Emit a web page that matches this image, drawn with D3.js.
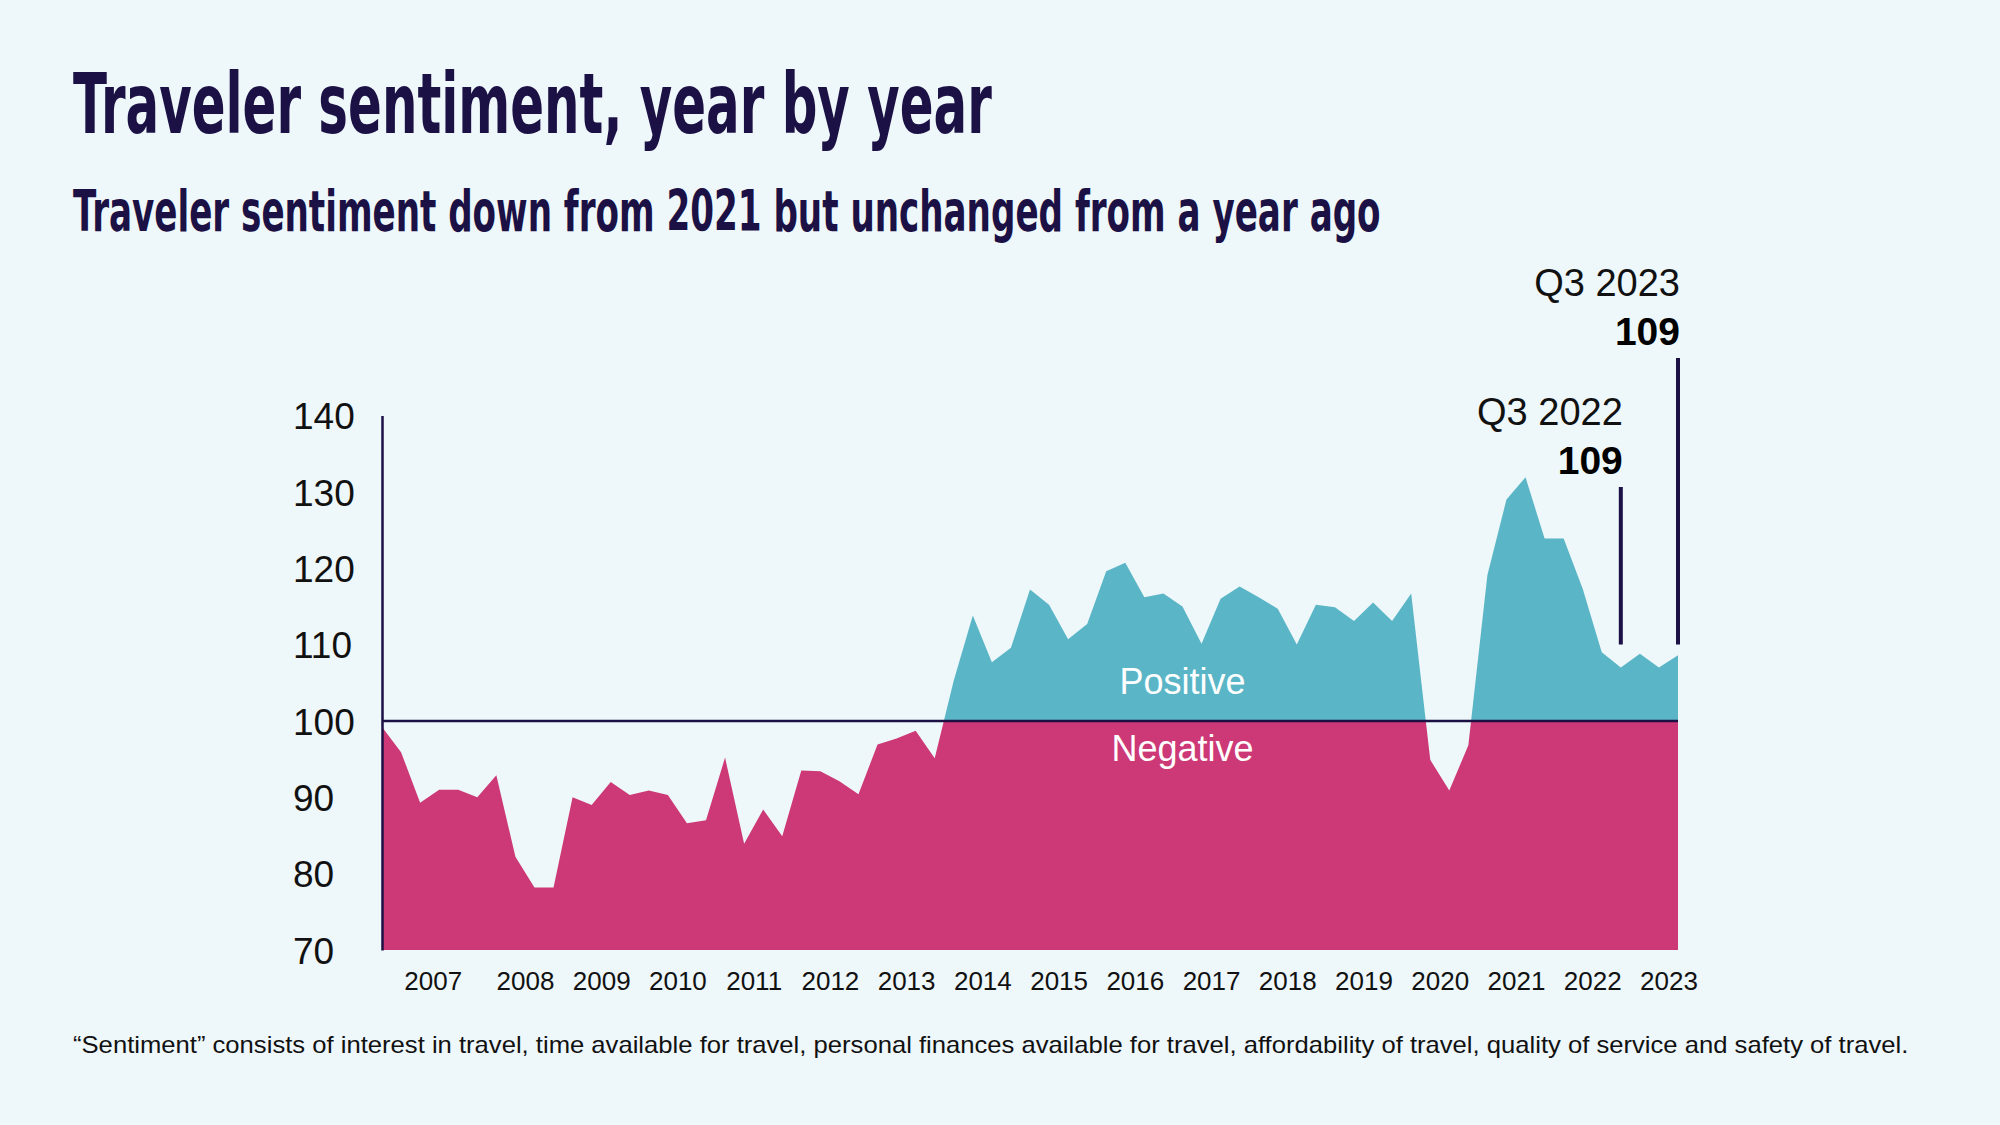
<!DOCTYPE html>
<html>
<head>
<meta charset="utf-8">
<script src="https://cdn.jsdelivr.net/npm/d3@7"></script>
<style>
  html, body { margin: 0; padding: 0; background: #eef7f9; }
  svg { display: block; }
</style>
</head>
<body>
<div id="chart"></div>
<script>
'use strict';

// quarterly readings, Q3 2006 .. Q3 2023
const quarters = [
    'Q3 2006', 'Q4 2006',
    'Q1 2007', 'Q2 2007', 'Q3 2007', 'Q4 2007',
    'Q1 2008', 'Q2 2008', 'Q3 2008', 'Q4 2008',
    'Q1 2009', 'Q2 2009', 'Q3 2009', 'Q4 2009',
    'Q1 2010', 'Q2 2010', 'Q3 2010', 'Q4 2010',
    'Q1 2011', 'Q2 2011', 'Q3 2011', 'Q4 2011',
    'Q1 2012', 'Q2 2012', 'Q3 2012', 'Q4 2012',
    'Q1 2013', 'Q2 2013', 'Q3 2013', 'Q4 2013',
    'Q1 2014', 'Q2 2014', 'Q3 2014', 'Q4 2014',
    'Q1 2015', 'Q2 2015', 'Q3 2015', 'Q4 2015',
    'Q1 2016', 'Q2 2016', 'Q3 2016', 'Q4 2016',
    'Q1 2017', 'Q2 2017', 'Q3 2017', 'Q4 2017',
    'Q1 2018', 'Q2 2018', 'Q3 2018', 'Q4 2018',
    'Q1 2019', 'Q2 2019', 'Q3 2019', 'Q4 2019',
    'Q1 2020', 'Q2 2020', 'Q3 2020', 'Q4 2020',
    'Q1 2021', 'Q2 2021', 'Q3 2021', 'Q4 2021',
    'Q1 2022', 'Q2 2022', 'Q3 2022', 'Q4 2022',
    'Q1 2023', 'Q2 2023', 'Q3 2023'
];

const sentiment = [
    99.2, 95.9,
    89.3, 91.0, 91.0, 90.0,
    92.9, 82.2, 78.2, 78.2,
    90.0, 89.0, 92.0, 90.3,
    90.9, 90.3, 86.6, 87.0,
    95.2, 83.9, 88.4, 84.9,
    93.5, 93.4, 92.1, 90.4,
    96.9, 97.7, 98.7, 95.1,
    105.3, 113.8, 107.7, 109.6,
    117.2, 115.2, 110.7, 112.7,
    119.6, 120.7, 116.2, 116.7,
    115.0, 110.1, 116.0, 117.6,
    116.2, 114.7, 110.0, 115.2,
    114.9, 113.1, 115.5, 113.1,
    116.7, 94.9, 90.9, 96.8,
    119.1, 129.0, 131.9, 123.9,
    123.9, 117.3, 109.0, 107.0,
    108.8, 107.0, 108.6
];

const yearLabels = [2007, 2008, 2009, 2010, 2011, 2012, 2013, 2014, 2015,
    2016, 2017, 2018, 2019, 2020, 2021, 2022, 2023];
const yTicks = [70, 80, 90, 100, 110, 120, 130, 140];

// callouts: label, value shown, and which point of the series the line sits on
const callouts = [
    { label: 'Q3 2022', value: 109, point: 65 },
    { label: 'Q3 2023', value: 109, point: 68 }
];

const title = 'Traveler sentiment, year by year';
const subtitle = 'Traveler sentiment down from 2021 but unchanged from a year ago';
const footnote = '\u201cSentiment\u201d consists of interest in travel, time available for travel, personal finances available for travel, affordability of travel, quality of service and safety of travel.';

const width = 2000, height = 1125;
const navy = '#1b1145';
const teal = '#5ab6c7';
const magenta = '#cc3976';
const condensed = '"Liberation Sans Narrow", "DejaVu Sans Condensed", "Liberation Sans", sans-serif';
const plain = '"Liberation Sans", Arial, sans-serif';

const svg = d3.select('#chart')
    .append('svg')
    .attr('width', width)
    .attr('height', height)
    .style('background', '#eef7f9');

// squeeze a text line horizontally so it spans the given width
function fitText(sel, x, y, targetWidth) {
    const w = sel.node().getComputedTextLength();
    sel.attr('transform', `translate(${x},${y}) scale(${targetWidth / w},1)`);
}

// headings
const titleText = svg.append('text')
    .style('font-family', condensed).style('font-weight', 'bold')
    .style('font-size', '83px').attr('fill', navy)
    .text(title);
fitText(titleText, 73, 133, 919);

const subText = svg.append('text')
    .style('font-family', condensed).style('font-weight', 'bold')
    .style('font-size', '56px').attr('fill', navy)
    .text(subtitle);
fitText(subText, 73, 231, 1308);

const x = d3.scaleLinear().domain([0, sentiment.length - 1]).range([382, 1678]);
const y = d3.scaleLinear().domain([70, 140]).range([950, 415.5]);

const chart = svg.append('g');

const defs = svg.append('defs');
defs.append('clipPath').attr('id', 'above')
    .append('rect')
    .attr('x', x(0)).attr('y', y(140))
    .attr('width', x(sentiment.length - 1) - x(0))
    .attr('height', y(100) - y(140));
defs.append('clipPath').attr('id', 'below')
    .append('rect')
    .attr('x', x(0)).attr('y', y(100))
    .attr('width', x(sentiment.length - 1) - x(0))
    .attr('height', y(70) - y(100));

const series = sentiment.map((v, i) => ({ i, v, q: quarters[i] }));

const negArea = d3.area()
    .x(d => x(d.i))
    .y0(y(70))
    .y1(d => y(d.v));

const posArea = d3.area()
    .x(d => x(d.i))
    .y0(y(100))
    .y1(d => y(d.v));

chart.append('path')
    .datum(series)
    .attr('d', negArea)
    .attr('fill', magenta)
    .attr('clip-path', 'url(#below)');

chart.append('path')
    .datum(series)
    .attr('d', posArea)
    .attr('fill', teal)
    .attr('clip-path', 'url(#above)');

// 100 reference line
chart.append('line')
    .attr('x1', x(0)).attr('x2', x(sentiment.length - 1))
    .attr('y1', y(100)).attr('y2', y(100))
    .attr('stroke', navy).attr('stroke-width', 2.5);

// area labels
const midIdx = 42;
chart.append('text')
    .attr('x', x(midIdx)).attr('y', y(100) - 27)
    .attr('text-anchor', 'middle')
    .style('font-family', plain).style('font-size', '36px')
    .attr('fill', '#ffffff')
    .text('Positive');
chart.append('text')
    .attr('x', x(midIdx)).attr('y', y(100) + 40)
    .attr('text-anchor', 'middle')
    .style('font-family', plain).style('font-size', '36px')
    .attr('fill', '#ffffff')
    .text('Negative');

// y axis
const yAxis = chart.append('g')
    .attr('transform', `translate(${x(0)},0)`)
    .call(d3.axisLeft(y).tickValues(yTicks).tickSize(0).tickSizeOuter(0));
yAxis.select('.domain').attr('stroke', navy).attr('stroke-width', 2.5);
yAxis.selectAll('text')
    .attr('x', -89)
    .attr('dy', '0.36em')
    .attr('text-anchor', 'start')
    .style('font-family', plain).style('font-size', '37px')
    .attr('fill', '#111');

// x axis: one label per year, centred on its four quarters
const firstQ1 = quarters.indexOf('Q1 ' + yearLabels[0]);
const yearPos = yearLabels.map((yr, k) => firstQ1 + k * 4 + 1.5);
const xAxis = chart.append('g')
    .attr('transform', `translate(0,${y(70)})`)
    .call(d3.axisBottom(x).tickValues(yearPos)
        .tickFormat((d, k) => yearLabels[k])
        .tickSize(0));
xAxis.select('.domain').remove();
xAxis.selectAll('text')
    .attr('y', 40).attr('dy', 0)
    .attr('dx', (d, k) => k === 0 ? -16 : 0)
    .style('font-family', plain).style('font-size', '26px')
    .attr('fill', '#111');

// callouts
const lineTops = [487, 358];
callouts.forEach((c, k) => {
    const cx = x(c.point);
    const top = lineTops[k];
    chart.append('line')
        .attr('x1', cx).attr('x2', cx)
        .attr('y1', top).attr('y2', y(110))
        .attr('stroke', navy).attr('stroke-width', 4);
    chart.append('text')
        .attr('x', cx + 2).attr('y', top - 13)
        .attr('text-anchor', 'end')
        .style('font-family', plain).style('font-weight', 'bold')
        .style('font-size', '39px').attr('fill', '#000')
        .text(c.value);
    chart.append('text')
        .attr('x', cx + 2).attr('y', top - 62)
        .attr('text-anchor', 'end')
        .style('font-family', plain).style('font-size', '38px')
        .attr('fill', '#111')
        .text(c.label);
});

// footnote
const noteText = svg.append('text')
    .style('font-family', plain).style('font-size', '23px')
    .attr('fill', '#111')
    .text(footnote);
fitText(noteText, 73, 1053, 1836);
</script>
</body>
</html>
